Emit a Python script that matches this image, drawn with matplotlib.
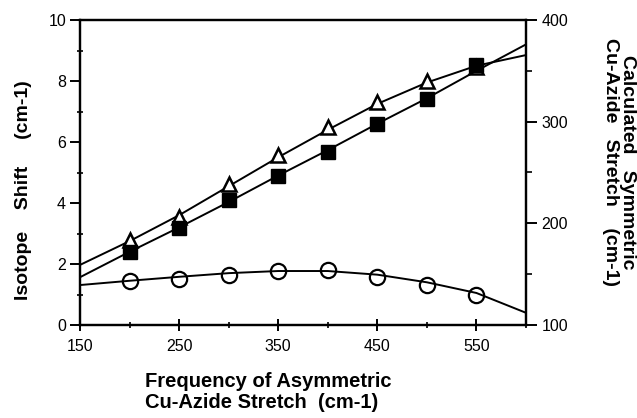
import numpy as np
import matplotlib
matplotlib.use("Agg")
import matplotlib.pyplot as plt
from matplotlib.ticker import MultipleLocator

plt.rcParams["font.family"] = ["Liberation Sans", "DejaVu Sans"]

# Messpunkte (Frequenz der asymmetrischen Streckschwingung, cm-1)
freq = [200, 250, 300, 350, 400, 450, 500, 550]
shift_tri = [2.79, 3.54, 4.62, 5.57, 6.49, 7.31, 8.00, 8.46]
shift_circ = [1.44, 1.51, 1.64, 1.77, 1.80, 1.57, 1.31, 0.98]
sym_stretch = [172, 195, 223, 247, 270, 298, 322, 356]   # rechte Achse

# Angepasste Kurven
curve_x = [150, 200, 250, 300, 350, 400, 450, 500, 550, 600]
curve_tri = [1.97, 2.75, 3.60, 4.55, 5.50, 6.40, 7.25, 7.95, 8.50, 8.85]
curve_circ = [1.31, 1.45, 1.58, 1.70, 1.77, 1.77, 1.65, 1.40, 1.05, 0.40]
curve_sym = [147, 172, 196, 221, 247, 272, 298, 323, 350, 376]

x_major = [150, 250, 350, 450, 550]

fig = plt.figure(figsize=(6.37, 4.18), dpi=100)
ax = fig.add_axes([80 / 637, 1 - 325 / 418, 446 / 637, 305 / 418])
ax2 = ax.twinx()

lw = 1.4
ax.plot(curve_x, curve_tri, color="black", lw=lw, zorder=2)
ax.plot(curve_x, curve_circ, color="black", lw=lw, zorder=2)
ax2.plot(curve_x, curve_sym, color="black", lw=lw, zorder=2)

ax.plot(freq, shift_tri, ls="none", marker="^", ms=10.5, mfc="white",
        mec="black", mew=1.8, zorder=3)
ax.plot(freq, shift_circ, ls="none", marker="o", ms=11, mfc="none",
        mec="black", mew=1.6, zorder=3)
ax2.plot(freq, sym_stretch, ls="none", marker="s", ms=10, mfc="black",
         mec="black", zorder=3)

ax.set_xlim(150, 600)
ax.set_ylim(0, 10)
ax2.set_ylim(100, 400)

ax.set_xticks(x_major)
ax.xaxis.set_minor_locator(MultipleLocator(50))
ax.yaxis.set_major_locator(MultipleLocator(2))
ax.yaxis.set_minor_locator(MultipleLocator(1))
ax2.yaxis.set_major_locator(MultipleLocator(100))
ax2.yaxis.set_minor_locator(MultipleLocator(50))

for s in ax.spines.values():
    s.set_linewidth(1.6)
for s in ax2.spines.values():
    s.set_linewidth(1.6)

ax.tick_params(axis="x", which="major", direction="inout", length=8, width=1.4,
               labelsize=11.5, pad=6)
ax.tick_params(axis="x", which="minor", direction="inout", length=5, width=1.2)
ax.tick_params(axis="y", which="major", direction="out", length=7, width=1.4,
               labelsize=11.5, pad=3)
ax.tick_params(axis="y", which="minor", direction="inout", length=5, width=1.2)
ax2.tick_params(axis="y", which="major", direction="out", length=8, width=1.4,
                labelsize=11.5, pad=3)
ax2.tick_params(axis="y", which="minor", direction="out", length=4, width=1.2)

fig.text(24 / 637, 1 - 190 / 418, "Isotope    Shift     (cm-1)", rotation=90,
         ha="center", va="center", fontsize=14, fontweight="bold")
fig.text(619 / 637, 1 - 162 / 418, "Calculated   Symmetric\nCu-Azide   Stretch    (cm-1)",
         rotation=-90, ha="center", va="center", fontsize=14, fontweight="bold",
         multialignment="center", linespacing=0.95)
fig.text(145 / 637, 1 - 392 / 418, "Frequency of Asymmetric\nCu-Azide Stretch  (cm-1)",
         ha="left", va="center", fontsize=14.5, fontweight="bold",
         multialignment="left", linespacing=1.1)

fig.savefig("out.png", dpi=100)
